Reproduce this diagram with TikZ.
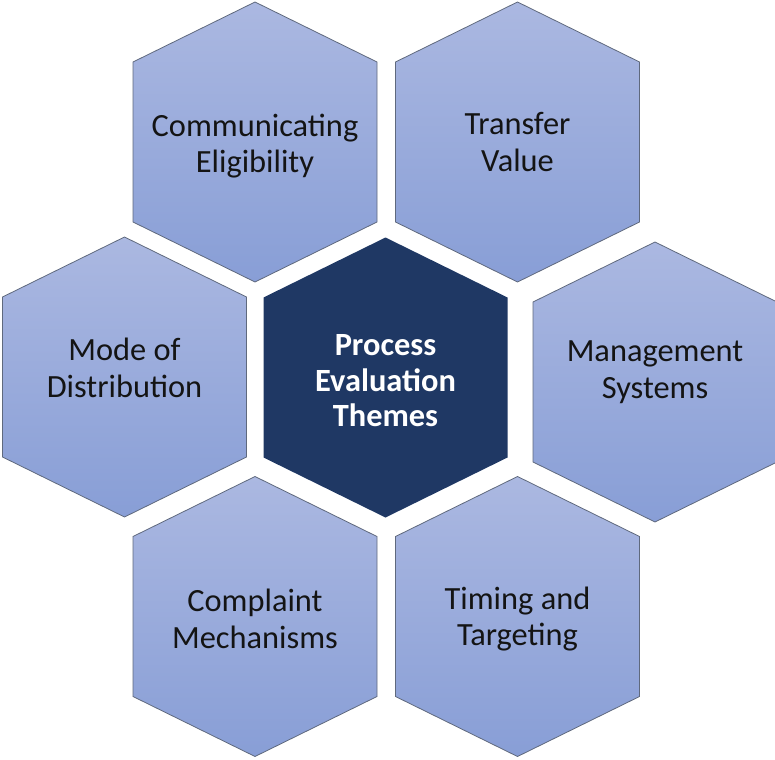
\documentclass[tikz,border=0pt]{standalone}
\usepackage{fontspec}
\setmainfont{Carlito}
\begin{document}
\definecolor{hexTop}{RGB}{171,184,225}
\definecolor{hexBottom}{RGB}{136,158,214}
\definecolor{hexEdge}{RGB}{95,105,125}
\definecolor{hexCore}{RGB}{31,56,100}
\definecolor{labelInk}{RGB}{20,20,20}
\begin{tikzpicture}[x=1pt,y=-1pt,
  hexpath/.style={line width=0.8pt, line join=miter},
  outer hex/.pic={
    \path[hexpath, draw=hexEdge, top color=hexTop, bottom color=hexBottom]
      (0,-140) -- (122,-80) -- (122,80) -- (0,140) -- (-122,80) -- (-122,-80) -- cycle;
  },
  core hex/.pic={
    \path[hexpath, fill=hexCore]
      (0,-140) -- (122,-80) -- (122,80) -- (0,140) -- (-122,80) -- (-122,-80) -- cycle;
  },
  theme/.style={align=center, text=labelInk, inner sep=0pt,
    font=\fontsize{32.4}{36.5}\selectfont},
  core/.style={align=center, text=white, inner sep=0pt,
    font=\bfseries\fontsize{32.4}{35.5}\selectfont}
]
\useasboundingbox (0,0) rectangle (775,759);

% honeycomb cells
\pic at (255,142) {outer hex};
\pic at (517.5,142) {outer hex};
\pic at (124.5,377) {outer hex};
\pic at (655,382) {outer hex};
\pic at (255,616.5) {outer hex};
\pic at (517.5,616.5) {outer hex};
\pic at (385.5,377.5) {core hex};

% labels
\node[theme] (elig) at (255,146) {Communicating\\Eligibility};
\node[theme] (transfer) at (517.5,142) {Transfer\\Value};
\node[theme] (mode) at (124.5,368) {Mode of\\Distribution};
\node[theme] (mgmt) at (655,372) {Management\\Systems};
\node[theme] (complaint) at (255,619) {Complaint\\Mechanisms};
\node[theme] (timing) at (517.5,619) {Timing and\\Targeting};
\node[core] (centre) at (385.5,381) {Process\\Evaluation\\Themes};
\end{tikzpicture}
\end{document}
